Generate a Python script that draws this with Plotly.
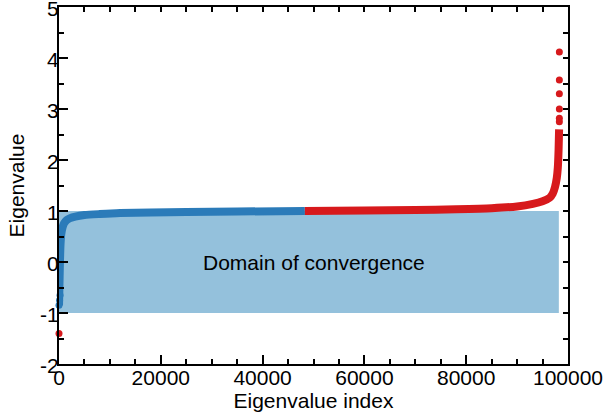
import plotly.graph_objects as go

# ---- data ----
blue_idx = [0, 60, 120, 200, 300, 450, 700, 1000, 1500, 2200, 3200, 5000, 8000, 12000, 18000, 25000, 35000, 48300]
blue_val = [-0.85, -0.6, -0.3, 0.05, 0.35, 0.55, 0.68, 0.76, 0.82, 0.86, 0.89, 0.92, 0.94, 0.96, 0.97, 0.98, 0.99, 1.0]

red_idx = [48300, 60000, 70000, 78000, 85000, 90000, 93100, 95000, 96400, 97000, 97450, 97800, 98000, 98150, 98250]
red_val = [1.0, 1.01, 1.02, 1.035, 1.055, 1.09, 1.14, 1.19, 1.26, 1.34, 1.47, 1.65, 1.85, 2.2, 2.6]

red_out_idx = [0, 98300, 98300, 98300, 98300, 98300, 98300]
red_out_val = [-1.4, 2.75, 2.82, 3.0, 3.3, 3.57, 4.12]

blue_out_idx = [0, 100, 200]
blue_out_val = [-0.85, -0.75, -0.65]

domain_x = [0, 98200]
domain_y = [-1, 1]

x_ticks = [0, 20000, 40000, 60000, 80000, 100000]
x_ticktext = ["0", "20000", "40000", "60000", "80000", "100000"]
y_ticks = [-2, -1, 0, 1, 2, 3, 4, 5]
y_ticktext = ["-2", "-1", "0", "1", "2", "3", "4", "5"]

BLUE = "#2b7bb9"
RED = "#d7191c"
FILL = "#94c1dc"
FONT = "Liberation Sans, Arial, Helvetica, sans-serif"

fig = go.Figure()

fig.add_shape(type="rect", x0=domain_x[0], x1=domain_x[1], y0=domain_y[0], y1=domain_y[1],
              fillcolor=FILL, line_width=0, layer="below")

fig.add_trace(go.Scatter(x=blue_idx, y=blue_val, mode="lines",
                         line=dict(color=BLUE, width=8, shape="spline", smoothing=0.6),
                         cliponaxis=False, showlegend=False))
fig.add_trace(go.Scatter(x=blue_out_idx, y=blue_out_val, mode="markers",
                         marker=dict(color=BLUE, size=7), cliponaxis=False, showlegend=False))
fig.add_trace(go.Scatter(x=red_idx, y=red_val, mode="lines",
                         line=dict(color=RED, width=8, shape="spline", smoothing=0.6),
                         cliponaxis=False, showlegend=False))
fig.add_trace(go.Scatter(x=red_out_idx, y=red_out_val, mode="markers",
                         marker=dict(color=RED, size=7), cliponaxis=False, showlegend=False))
# invisible trace to anchor mirror axes
fig.add_trace(go.Scatter(x=[0], y=[0], xaxis="x2", yaxis="y2", mode="markers",
                         marker=dict(opacity=0), showlegend=False, hoverinfo="skip"))

fig.add_annotation(x=50000, y=0, text="Domain of convergence", showarrow=False,
                   font=dict(size=21, color="black", family=FONT))

axis_common = dict(showline=True, linecolor="black", linewidth=2, ticks="inside",
                   tickcolor="black", tickwidth=2, showgrid=False, zeroline=False,
                   automargin=False)

fig.update_layout(
    width=607, height=419,
    margin=dict(l=59, r=39, t=7, b=55),
    paper_bgcolor="white", plot_bgcolor="white",
    font=dict(family=FONT, size=21, color="black"),
    xaxis=dict(range=[0, 100000], tickvals=x_ticks, ticktext=x_ticktext, ticklen=9,
               ticklabeloverflow="allow", ticklabelstandoff=-6,
               minor=dict(dtick=5000, tick0=0, ticklen=5, ticks="inside", tickcolor="black", tickwidth=2),
               title=dict(text="Eigenvalue index", standoff=0, font=dict(size=21)),
               **axis_common),
    yaxis=dict(range=[-2, 5], tickvals=y_ticks, ticktext=y_ticktext, ticklen=9,
               ticklabeloverflow="allow", ticklabelstandoff=-6, ticklabelshift=2,
               minor=dict(dtick=0.5, tick0=0, ticklen=5, ticks="inside", tickcolor="black", tickwidth=2),
               title=dict(text="Eigenvalue", standoff=10, font=dict(size=21)),
               **axis_common),
    xaxis2=dict(range=[0, 100000], overlaying="x", side="top", dtick=5000, tick0=0, ticklen=5,
                showticklabels=False, **axis_common),
    yaxis2=dict(range=[-2, 5], overlaying="y", side="right", dtick=0.5, tick0=0, ticklen=5,
                showticklabels=False, **axis_common),
)

fig.write_html("out.html")
